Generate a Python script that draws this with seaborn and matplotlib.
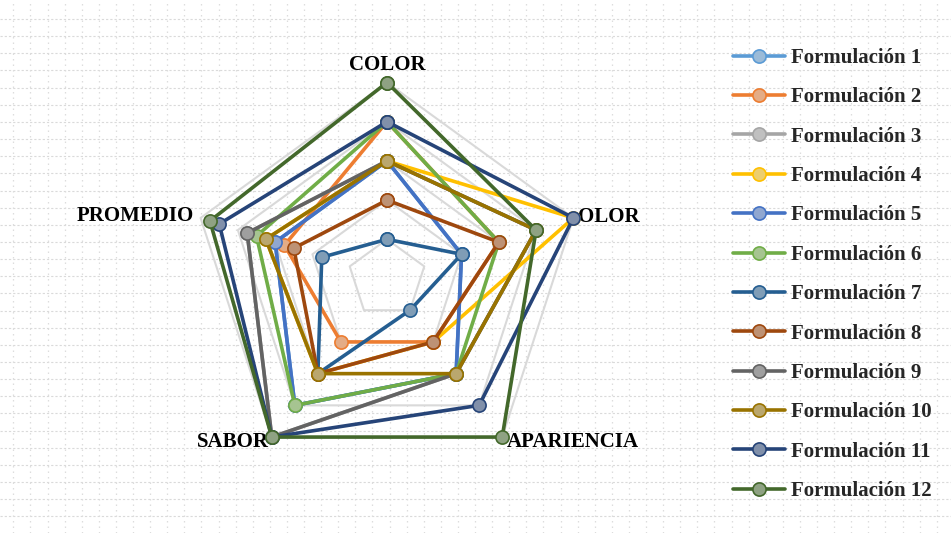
import numpy as np
import pandas as pd
import matplotlib
matplotlib.use("Agg")
import matplotlib.pyplot as plt
import matplotlib.colors as mcolors
from matplotlib.lines import Line2D
import seaborn as sns

# ---------------- data ----------------
categories = ["COLOR", "OLOR", "APARIENCIA", "SABOR", "PROMEDIO"]
series_names = [f"Formulación {i}" for i in range(1, 13)]
f1 = [3, 2, 3, 4, 3.00]
f2 = [4, 3, 2, 2, 2.75]
f3 = [3, 4, 3, 5, 3.75]
f4 = [3, 5, 2, 3, 3.25]
f5 = [3, 2, 3, 4, 3.00]
f6 = [4, 3, 3, 4, 3.50]
f7 = [1, 2, 1, 3, 1.75]
f8 = [2, 3, 2, 3, 2.50]
f9 = [3, 4, 3, 5, 3.75]
f10 = [3, 4, 3, 3, 3.25]
f11 = [4, 5, 4, 5, 4.50]
f12 = [5, 4, 5, 5, 4.75]
series_values = [f1, f2, f3, f4, f5, f6, f7, f8, f9, f10, f11, f12]
series_colors = ["#5B9BD5", "#ED7D31", "#A5A5A5", "#FFC000", "#4472C4", "#70AD47",
                 "#255E91", "#9E480E", "#636363", "#997300", "#264478", "#43682B"]
ring_levels = [1, 2, 3, 4, 5]

# ---------------- style ----------------
sns.set_style("white")
plt.rcParams['font.family'] = ['Liberation Serif', 'DejaVu Serif']

W, H = 951, 533
fig = plt.figure(figsize=(W / 100, H / 100), dpi=100)
fig.patch.set_facecolor("white")

# background dotted texture
bg = fig.add_axes([0, 0, 1, 1])
bg.set_xlim(0, W)
bg.set_ylim(H, 0)
bg.axis("off")
for y in np.arange(19, H, 17.15):
    bg.axhline(y, color="#dadada", lw=0.8, ls=(0, (2.0, 1.8)), zorder=0)
for x in np.arange(13.3, W, 17.1):
    bg.axvline(x, color="#dddddd", lw=0.9, ls=(0, (1.2, 3.2)), zorder=0)

# radar axes
cx, cy, R = 387, 278.5, 196
ax = fig.add_axes([(cx - R) / W, (H - cy - R) / H, 2 * R / W, 2 * R / H],
                  projection="polar")
ax.set_theta_zero_location("N")
ax.set_theta_direction(-1)
ax.patch.set_alpha(0)

n = len(categories)
theta = np.linspace(0, 2 * np.pi, n, endpoint=False)
theta_c = np.append(theta, 2 * np.pi)

for lev in ring_levels:
    ax.plot(theta_c, [lev] * (n + 1), color="#d9d9d9", lw=1.5, zorder=1,
            clip_on=False)


def light(c, f=0.5):
    r, g, b = mcolors.to_rgb(c)
    base = 0.86
    return (r * f + base * (1 - f), g * f + base * (1 - f), b * f + base * (1 - f))


LW, MS, MEW = 2.6, 9.5, 1.2
for i, (name, vals, col) in enumerate(zip(series_names, series_values, series_colors)):
    df = pd.DataFrame({"theta": theta_c, "r": list(vals) + [vals[0]]})
    sns.lineplot(data=df, x="theta", y="r", sort=False, estimator=None, ax=ax,
                 color=col, lw=LW, marker="o", markersize=MS,
                 markerfacecolor=light(col), markeredgecolor=col,
                 markeredgewidth=MEW, clip_on=False, zorder=2 + i)

ax.set_ylim(0, 5)
ax.grid(False)
ax.set_xticks([])
ax.set_yticks([])
ax.set_xlabel("")
ax.set_ylabel("")
ax.spines["polar"].set_visible(False)

label_style = dict(fontsize=15, fontweight="bold", color="black",
                   textcoords="offset pixels", annotation_clip=False)
offsets = [((0, 18), "center", "center"),
           ((5, 1), "left", "center"),
           ((5, -5), "left", "center"),
           ((-3, -5), "right", "center"),
           ((-7, 2), "right", "center")]
for t, cat, (off, ha, va) in zip(theta, categories, offsets):
    ax.annotate(cat, xy=(t, 5), xytext=off, ha=ha, va=va, **label_style)

handles = [Line2D([0], [0], color=c, lw=LW, marker="o", markersize=MS,
                  markerfacecolor=light(c), markeredgecolor=c, markeredgewidth=MEW)
           for c in series_colors]
fig.legend(handles, series_names, loc="upper left",
           bbox_to_anchor=(733 / W, 1 - 48 / H), frameon=False,
           prop=dict(family="Liberation Serif", weight="bold", size=15),
           handlelength=2.5, handletextpad=0.3, labelspacing=0.93,
           borderaxespad=0, borderpad=0)

fig.savefig("out.png", dpi=100)
